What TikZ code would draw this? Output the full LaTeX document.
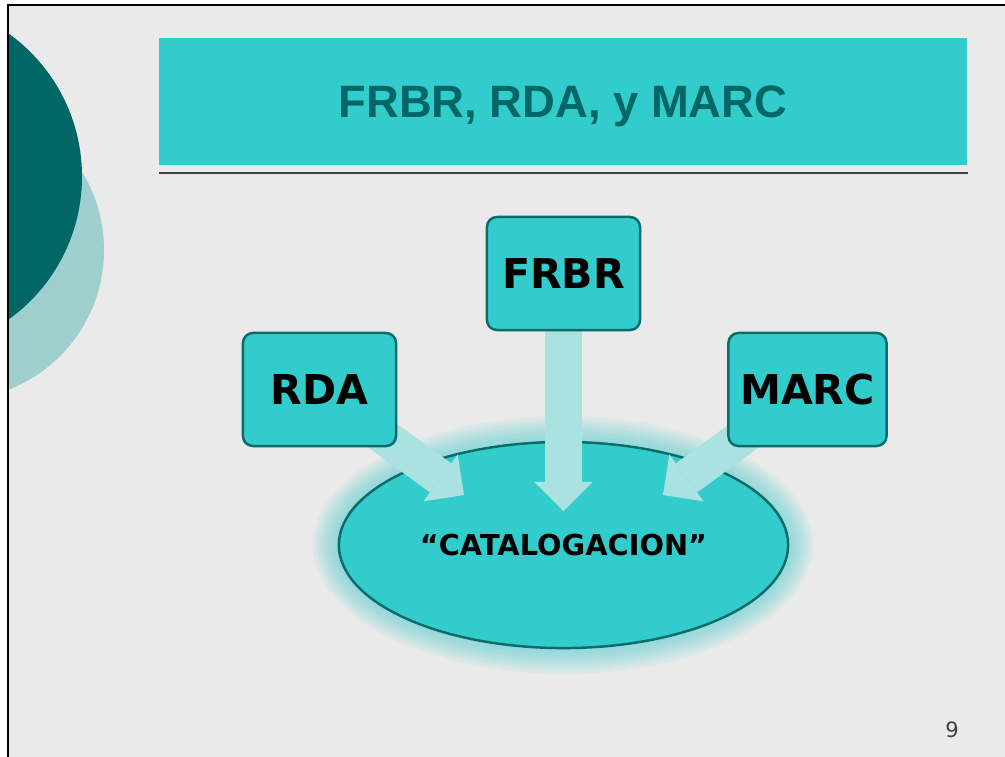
\documentclass[tikz,border=0pt]{standalone}
\usepackage{fontspec}
\setmainfont{DejaVu Sans}
\newfontfamily\titlefont{Liberation Sans}
\usetikzlibrary{shapes.geometric,arrows.meta}
\definecolor{slidegray}{HTML}{EAEAEA}
\definecolor{tealdark}{HTML}{006666}
\definecolor{teallight}{HTML}{9ECECE}
\definecolor{tealbox}{HTML}{33CCCC}
\definecolor{tealedge}{HTML}{0E6B6B}
\definecolor{arrowfill}{HTML}{AAE1E1}
\pgfdeclarelayer{bg}
\pgfdeclarelayer{mid}
\pgfsetlayers{bg,mid,main}
\tikzset{
	topicbox/.style={draw=tealedge, line width=0.7pt, fill=tealbox, rounded corners=0.1cm,
		minimum width=1.53cm, minimum height=1.13cm, font=\bfseries\fontsize{11.7}{14}\selectfont},
	bigarrow/.style={draw=arrowfill, line width=0.36cm,
		-{Triangle[width=0.58cm, length=0.29cm, line width=0pt]}}
}

\begin{document}
\begin{tikzpicture}[x=0.01cm, y=-0.01cm]
	\useasboundingbox (0, 0) rectangle (1005, 757);
	
	\begin{pgfonlayer}{bg}
		\fill[white] (0, 0) rectangle (1005, 757);
		\fill[slidegray] (8, 5) rectangle (1005, 757);
		\begin{scope}
			\clip (8, 5) rectangle (1005, 757);
			\fill[teallight] (-46, 250) circle (150);
			\fill[tealdark] (-94, 176.5) circle (176);
		\end{scope}
		\draw[black, line width=0.6pt] (8, 757) -- (8, 5) -- (1005, 5);
		
		% title bar
		\fill[tealbox] (159, 38) rectangle (967, 165);
		\draw[black!75, line width=0.4pt] (159, 173) -- (968, 173);
		
		% glow round the ellipse
		\foreach \g in {1,...,10}
			\fill[tealbox, opacity=0.06] (563, 545) ellipse [x radius=224.5+2.6*\g, y radius=103+2.6*\g];
		\node[ellipse, draw=tealedge, line width=0.7pt, fill=tealbox,
			minimum width=4.49cm, minimum height=2.06cm, inner sep=0pt,
			font=\bfseries\fontsize{8.2}{10}\selectfont] (cat) at (563.5, 545) {“CATALOGACION”};
	\end{pgfonlayer}
	
	\node[font=\titlefont\bfseries\fontsize{12.9}{15}\selectfont, text=tealdark] (title) at (563, 106.5) {FRBR, RDA, y MARC};
	
	\node[topicbox] (frbr) at (563.5, 273.5) {FRBR};
	\node[topicbox] (rda) at (319.5, 389.5) {RDA};
	\node[topicbox] (marc) at (807.5, 389.5) {MARC};
	
	\coordinate (frbrtip) at (563.5, 511);
	\coordinate (rdatip) at (464, 495);
	\coordinate (marctip) at (663, 495);
	
	\begin{pgfonlayer}{mid}
		\draw[bigarrow] (frbr.center) -- (frbrtip);
		\draw[bigarrow] (rda.center) -- (rdatip);
		\draw[bigarrow] (marc.center) -- (marctip);
	\end{pgfonlayer}
	
	\node[text=black!75, font=\fontsize{6}{7}\selectfont] (pagenum) at (952, 730) {9};
	
\end{tikzpicture}
\end{document}
